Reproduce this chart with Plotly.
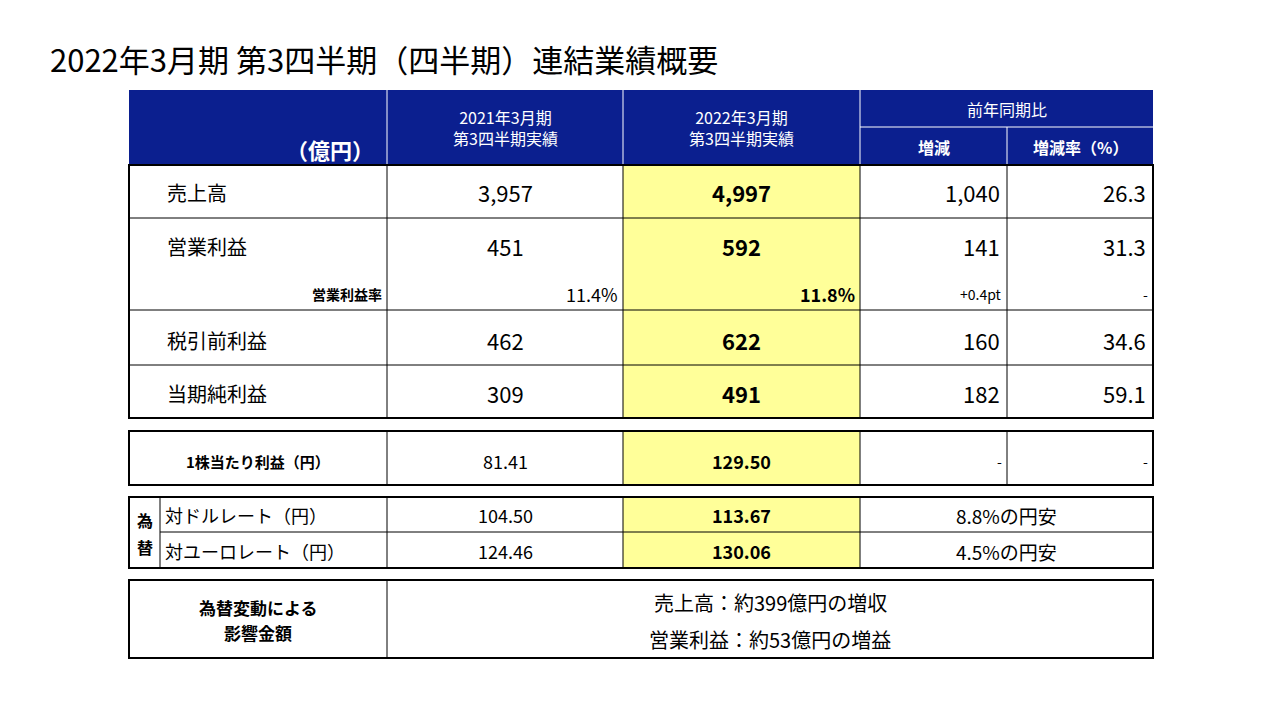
import plotly.graph_objects as go

title = "2022年3月期 第3四半期（四半期）連結業績概要"
col_headers = ["2021年3月期<br>第3四半期実績", "2022年3月期<br>第3四半期実績"]
yoy_header = "前年同期比"
yoy_sub = ["増減", "増減率（%）"]
unit = "（億円）"
row_labels = ["売上高", "営業利益", "税引前利益", "当期純利益"]
prev_vals = ["3,957", "451", "462", "309"]
curr_vals = ["4,997", "592", "622", "491"]
diff_vals = ["1,040", "141", "160", "182"]
rate_vals = ["26.3", "31.3", "34.6", "59.1"]
margin_label = "営業利益率"
margin_vals = ["11.4%", "11.8%", "+0.4pt", "-"]
eps_label = "1株当たり利益（円）"
eps_vals = ["81.41", "129.50", "-", "-"]
fx_side = "為<br>替"
fx_labels = ["対ドルレート（円）", "対ユーロレート（円）"]
fx_prev = ["104.50", "124.46"]
fx_curr = ["113.67", "130.06"]
fx_note = ["8.8%の円安", "4.5%の円安"]
impact_label = ["為替変動による", "影響金額"]
impact_text = ["売上高：約399億円の増収", "営業利益：約53億円の増益"]

NAVY = "#0b1f8f"
YEL = "#ffff99"
F = "Noto Sans CJK JP"
X = [129, 387, 623, 860, 1007, 1153]

shapes, ann = [], []
def rect(x0, y0, x1, y1, fill=None, w=1, color="black"):
    shapes.append(dict(type="rect", xref="x", yref="y", x0=x0, y0=y0, x1=x1, y1=y1,
                       fillcolor=fill or "rgba(0,0,0,0)", line=dict(color=color, width=w), layer="below" if fill else "above"))
def line(x0, y0, x1, y1, w=1, color="black"):
    shapes.append(dict(type="line", xref="x", yref="y", x0=x0, y0=y0, x1=x1, y1=y1, line=dict(color=color, width=w)))
def text(x, y, t, size=17, color="black", anchor="center", bold=False):
    if bold: t = "<b>" + t + "</b>"
    ann.append(dict(x=x, y=y, xref="x", yref="y", text=t, showarrow=False, xanchor=anchor,
                    yanchor="middle", font=dict(family=F, size=size, color=color)))

# header
rect(X[0], 90, X[5], 165, fill=NAVY, w=0)
line(X[1], 90, X[1], 165, color="white")
line(X[2], 90, X[2], 165, color="white")
line(X[3], 90, X[3], 165, color="white")
line(X[3], 127, X[5], 127, color="white")
line(X[4], 127, X[4], 165, color="white")
text(330, 149, unit, 22, "white", "center", True)
text((X[1]+X[2])/2, 127, col_headers[0], 16, "white")
text((X[2]+X[3])/2, 127, col_headers[1], 16, "white")
text((X[3]+X[5])/2, 109, yoy_header, 16, "white")
text((X[3]+X[4])/2, 147, yoy_sub[0], 16, "white", bold=True)
text((X[4]+X[5])/2, 147, yoy_sub[1], 16, "white", bold=True)

# main block
ys = [165, 218, 310, 365, 418]
rect(X[2], 165, X[3], 418, fill=YEL, w=0)
for y in ys[1:-1]:
    line(X[0], y, X[5], y)
for x in X[1:-1]:
    line(x, 165, x, 418)
rect(X[0], 165, X[5], 418, w=2)
cy = [192, 246, 340, 393]
for i in range(4):
    text(165, cy[i], row_labels[i], 20, anchor="left")
    text((X[1]+X[2])/2, cy[i], prev_vals[i], 22)
    text((X[2]+X[3])/2, cy[i], curr_vals[i], 22, bold=True)
    text(X[4]-5, cy[i], diff_vals[i], 22, anchor="right")
    text(X[5]-5, cy[i], rate_vals[i], 22, anchor="right")
text(X[1]-3, 294, margin_label, 14, anchor="right", bold=True)
for j, v in enumerate(margin_vals):
    text(X[j+2]-3, 294, v, 18 if j < 2 else 14, anchor="right", bold=(j == 1))

# EPS
rect(X[2], 431, X[3], 485, fill=YEL, w=0)
for x in X[1:-1]:
    line(x, 431, x, 485)
rect(X[0], 431, X[5], 485, w=2)
text(258, 461, eps_label, 15, bold=True)
text((X[1]+X[2])/2, 461, eps_vals[0], 18)
text((X[2]+X[3])/2, 461, eps_vals[1], 18, bold=True)
text(X[4]-3, 461, eps_vals[2], 14, anchor="right")
text(X[5]-3, 461, eps_vals[3], 14, anchor="right")

# FX
rect(X[2], 497, X[3], 568, fill=YEL, w=0)
line(160, 532, X[5], 532)
for x in [160, X[1], X[2], X[3]]:
    line(x, 497, x, 568)
rect(X[0], 497, X[5], 568, w=2)
text(145, 520, "為", 16, bold=True)
text(145, 547, "替", 16, bold=True)
fy = [515, 551]
for i in range(2):
    text(163, fy[i], fx_labels[i], 18, anchor="left")
    text((X[1]+X[2])/2, fy[i], fx_prev[i], 18)
    text((X[2]+X[3])/2, fy[i], fx_curr[i], 18, bold=True)
    text((X[3]+X[5])/2, fy[i], fx_note[i], 19)

# impact
line(X[1], 580, X[1], 658)
rect(X[0], 580, X[5], 658, w=2)
text(258, 607, impact_label[0], 17, bold=True)
text(258, 632, impact_label[1], 17, bold=True)
text((X[1]+X[5])/2, 602, impact_text[0], 20)
text((X[1]+X[5])/2, 639, impact_text[1], 20)

text(48, 58, title, 31, anchor="left")

fig = go.Figure()
fig.update_layout(width=1281, height=720, margin=dict(l=0, r=0, t=0, b=0),
                  plot_bgcolor="white", paper_bgcolor="white",
                  xaxis=dict(range=[8, 1289], visible=False, fixedrange=True),
                  yaxis=dict(range=[728, 8], visible=False, fixedrange=True),
                  shapes=shapes, annotations=ann, showlegend=False)
fig.write_html("out.html")
